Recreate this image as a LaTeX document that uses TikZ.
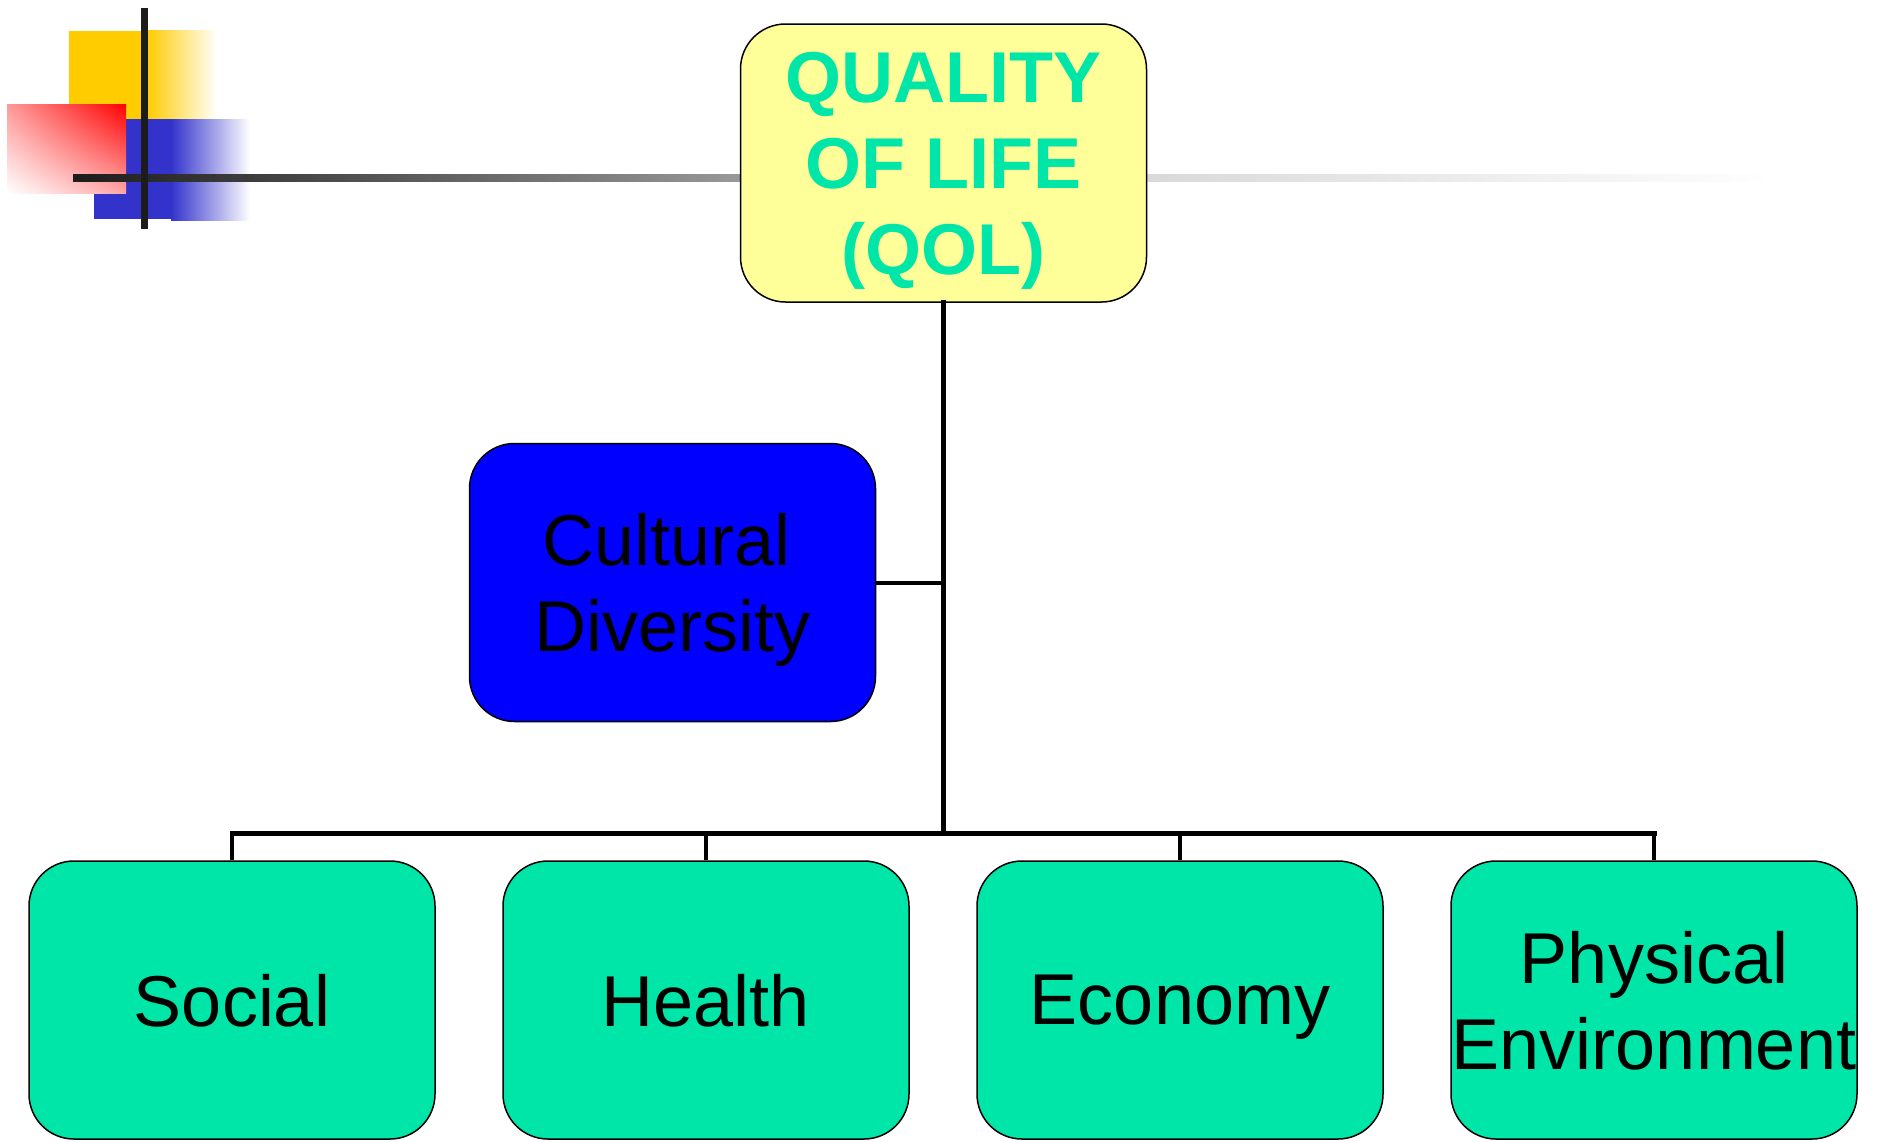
\documentclass[tikz,border=0pt]{standalone}
\usepackage{fontspec}
\setmainfont{Liberation Sans}
\usepackage{xcolor}
\usetikzlibrary{positioning,shadings}
\definecolor{qolgreen}{RGB}{0,229,168}
\definecolor{qolyellow}{RGB}{255,255,153}
\definecolor{decoyellow}{RGB}{255,204,0}
\definecolor{decoblue}{RGB}{51,51,204}
\definecolor{decogrey}{RGB}{28,28,28}
\tikzset{
  topic/.style={draw=black,line width=1.5pt,rounded corners=45pt,minimum width=406pt,
    minimum height=278pt,inner sep=0pt,align=center,text depth=0pt,
    font=\fontsize{72}{86}\selectfont},
  link/.style={line width=5pt,line cap=rect},
  drop/.style={line width=4pt},
}

\begin{document}
\begin{tikzpicture}[x=1pt,y=-1pt,node distance=66.5pt]
            \useasboundingbox (0,0) rectangle (1877,1141);
            \fill[decoyellow] (69,31) rectangle (148,119);
            \shade[left color=decoyellow,right color=white] (147,30) rectangle (217,119);
            \fill[decoblue] (94,119) rectangle (172,219);
            \shade[left color=decoblue,right color=white] (171,119) rectangle (250,220);
            \shade[upper right=red,upper left=red!40,lower right=red!35,lower left=white] (7,104) rectangle (126,193);
            \shade[left color=decogrey,right color=black!40] (73,174) rectangle (742,181);
            \shade[left color=black!15,right color=white] (1145,174) rectangle (1771,181);
            \fill[decogrey] (141,8) rectangle (148,229);
            \node[topic,fill=qolyellow,text=qolgreen,font=\fontsize{72}{86}\selectfont\bfseries] (qol) at (943.5,163) {QUALITY\\OF LIFE\\(QOL)};
            \node[topic,fill=blue] (cult) at (672.5,582.5) {\hspace*{-12pt}Cultural\\Diversity};
            \node[topic,fill=qolgreen] (social) at (232,1000) {Social};
            \node[topic,fill=qolgreen,right=of social] (health) {Health};
            \node[topic,fill=qolgreen,right=of health] (economy) {Economy};
            \node[topic,fill=qolgreen,right=of economy] (phys) {Physical\\Environment};
            \coordinate (bus) at (943.5,833.5);
            \draw[link] (qol.south) -- (qol.south |- bus);
            \draw[drop] (cult.east) -- (cult.east -| qol.south);
            \draw[link] (social.north |- bus) -- (phys.north |- bus);
            \foreach \n in {social,health,economy,phys}
              \draw[drop] (\n.north) -- (\n.north |- bus);
        \end{tikzpicture}
\end{document}
